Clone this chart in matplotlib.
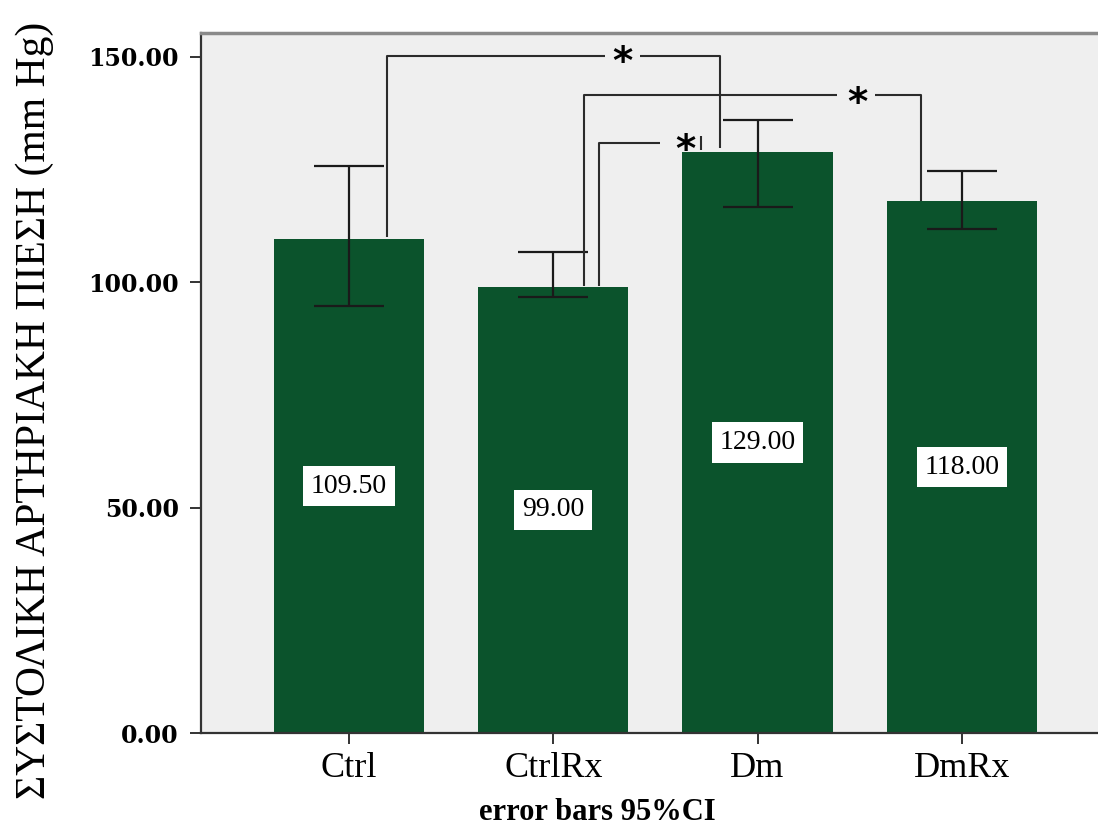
import matplotlib

matplotlib.use("Agg")

import matplotlib.pyplot as plt

# group means and 95% CI limits (mm Hg)
groups = ["Ctrl", "CtrlRx", "Dm", "DmRx"]
means = [109.50, 99.00, 129.00, 118.00]
ci_low = [94.8, 96.8, 116.8, 111.8]
ci_high = [125.9, 106.8, 135.9, 124.7]

# significance brackets: (left group, right group, bracket height)
brackets = [(0, 2, 150.3), (1, 3, 141.6), (1, 2, 130.9)]

BAR = "#0b532c"
BG = "#efefef"
LINE = "#2b2b2b"
SERIF = ["Liberation Serif", "DejaVu Serif"]

fig = plt.figure(figsize=(10.98, 8.30), dpi=100)
ax = fig.add_axes([201 / 1098, 97 / 830, 897 / 1098, 700 / 830])
ax.set_facecolor(BG)

x = list(range(len(groups)))
ax.bar(x, means, width=0.735, color=BAR, zorder=2)

lower = [m - lo for m, lo in zip(means, ci_low)]
upper = [hi - m for m, hi in zip(means, ci_high)]
ax.errorbar(x, means, yerr=[lower, upper], fmt="none", ecolor="#1a1a1a",
            elinewidth=1.6, capsize=25, capthick=1.6, zorder=3)

for xi, m in zip(x, means):
    ax.text(xi, m / 2, f"{m:.2f}", ha="center", va="center", fontsize=20,
            family=SERIF, color="black", zorder=4,
            bbox=dict(boxstyle="square,pad=0.28", facecolor="white", edgecolor="none"))

# bracket legs land at these offsets from the bar centres
leg_left = {(0, 2): 0.186, (1, 3): 0.150, (1, 2): 0.224}
leg_right = {(0, 2): -0.184, (1, 3): -0.20}


def seg(xs, ys):
    ax.plot(xs, ys, color=LINE, lw=1.5, solid_capstyle="butt", zorder=3)


def star(xc, yc):
    ax.text(xc, yc, "*", ha="center", va="center", fontsize=28, fontweight="bold",
            family="DejaVu Sans", color="black", zorder=4)


# Ctrl vs Dm
y = brackets[0][2]
xl = 0 + leg_left[(0, 2)]
xr = 2 + leg_right[(0, 2)]
seg([xl, xl, 1.253], [means[0] + 0.5, y, y])
seg([1.424, xr, xr], [y, y, means[2] + 0.8])
star(1.336, y - 1.6)

# CtrlRx vs DmRx
y = brackets[1][2]
xl = 1 + leg_left[(1, 3)]
xr = 3 + leg_right[(1, 3)]
seg([xl, xl, 2.39], [means[1] + 0.2, y, y])
seg([2.575, xr, xr], [y, y, means[3]])
star(2.487, y - 2.0)

# CtrlRx vs Dm
y = brackets[2][2]
xl = 1 + leg_left[(1, 2)]
seg([xl, xl, 1.522], [means[1] + 0.2, y, y])
seg([1.723, 1.723], [means[2] + 0.3, y + 1.5])
star(1.645, y - 1.8)

ax.set_xlim(-0.724, 3.666)
ax.set_ylim(0, 155.3)
ax.set_yticks([0, 50, 100, 150])
ax.set_yticklabels([f"{v:.2f}" for v in [0, 50, 100, 150]], family="DejaVu Serif",
                   fontweight="bold", fontsize=17)
ax.set_xticks(x)
ax.set_xticklabels(groups, family=SERIF, fontsize=26)
ax.tick_params(axis="y", length=8, width=1.4, pad=8, color="#333333")
ax.tick_params(axis="x", length=8, width=1.4, pad=6, color="#333333")

for side in ["left", "bottom"]:
    ax.spines[side].set_color("#333333")
    ax.spines[side].set_linewidth(1.6)
ax.spines["top"].set_color("#8a8a8a")
ax.spines["top"].set_linewidth(2.5)
ax.spines["right"].set_visible(False)

fig.text(35 / 1098, 0.505, "ΣΥΣΤΟΛΙΚΗ ΑΡΤΗΡΙΑΚΗ ΠΙΕΣΗ (mm Hg)", rotation=90,
         ha="center", va="center", fontsize=30, family=SERIF)
fig.text(597 / 1098, 1 - 812 / 830, "error bars 95%CI", ha="center", va="center",
         fontsize=22, fontweight="bold", family=SERIF)

fig.savefig("out.png", dpi=100, facecolor="white")
